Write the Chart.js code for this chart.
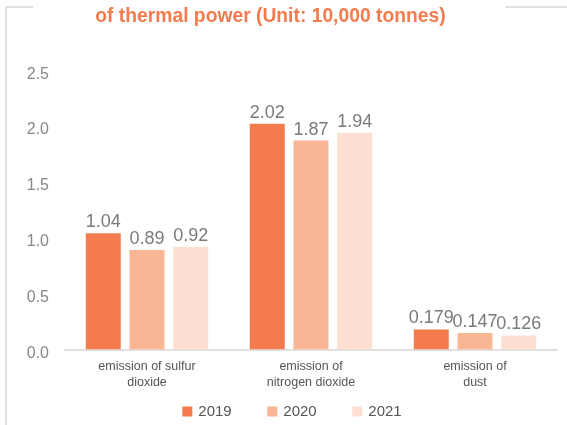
<!DOCTYPE html>
<html>
<head>
<meta charset="utf-8">
<script src="https://cdn.jsdelivr.net/npm/chart.js@4"></script>
<style>
    html, body { margin: 0; padding: 0; background: #fff; }
    #wrap { width: 567px; height: 425px; }
</style>
</head>
<body>
<div id="wrap"><canvas id="emissionChart" width="567" height="425"></canvas></div>
<script>
    const categories = [
        ['emission of sulfur', 'dioxide'],
        ['emission of', 'nitrogen dioxide'],
        ['emission of', 'dust']
    ];
    const years = ['2019', '2020', '2021'];
    const values2019 = [1.04, 2.02, 0.179];
    const values2020 = [0.89, 1.87, 0.147];
    const values2021 = [0.92, 1.94, 0.126];
    const yTicks = [0, 0.5, 1.0, 1.5, 2.0, 2.5];

    const colors = ['#f47b4d', '#f9b694', '#fde0d1'];
    const fontFamily = '"Liberation Sans", Arial, sans-serif';

    // thin grey frame around the chart
    const framePlugin = {
        id: 'frame',
        beforeDraw(chart) {
            const ctx = chart.ctx;
            ctx.save();
            ctx.strokeStyle = '#e2e2e2';
            ctx.lineWidth = 2;
            ctx.beginPath();
            ctx.moveTo(33, 7);
            ctx.lineTo(6, 7);
            ctx.lineTo(6, 425);
            ctx.moveTo(505, 7);
            ctx.lineTo(567, 7);
            ctx.stroke();
            ctx.restore();
        }
    };

    // value labels above bars
    const valueLabels = {
        id: 'valueLabels',
        afterDatasetsDraw(chart) {
            const ctx = chart.ctx;
            ctx.save();
            ctx.font = '18px ' + fontFamily;
            ctx.fillStyle = '#7a7a7a';
            ctx.textAlign = 'center';
            ctx.textBaseline = 'alphabetic';
            chart.data.datasets.forEach(function (ds, i) {
                chart.getDatasetMeta(i).data.forEach(function (bar, j) {
                    ctx.fillText(String(ds.data[j]), bar.x, bar.y - 6);
                });
            });
            ctx.restore();
        }
    };

    // legend with wide spacing between items
    const bottomLegend = {
        id: 'bottomLegend',
        afterDraw(chart) {
            const ctx = chart.ctx;
            const step = 85, box = 10, gap = 6, y = 412;
            ctx.save();
            ctx.font = '15px ' + fontFamily;
            const dsets = chart.data.datasets;
            const lastW = ctx.measureText(dsets[dsets.length - 1].label).width;
            const total = step * (dsets.length - 1) + box + gap + lastW;
            let x = 292 - total / 2;
            dsets.forEach(function (ds) {
                ctx.fillStyle = ds.backgroundColor;
                ctx.fillRect(x, y - box / 2 - 0.5, box, box);
                ctx.fillStyle = '#555';
                ctx.textAlign = 'left';
                ctx.textBaseline = 'middle';
                ctx.fillText(ds.label, x + box + gap, y);
                x += step;
            });
            ctx.restore();
        }
    };

    const ctx = document.getElementById('emissionChart').getContext('2d');

    new Chart(ctx, {
        type: 'bar',
        data: {
            labels: categories,
            datasets: [
                { label: years[0], data: values2019, backgroundColor: colors[0] },
                { label: years[1], data: values2020, backgroundColor: colors[1] },
                { label: years[2], data: values2021, backgroundColor: colors[2] }
            ]
        },
        options: {
            responsive: false,
            animation: false,
            events: [],
            layout: { padding: { left: 0, right: 10, top: 0, bottom: 30.5 } },
            datasets: {
                bar: { categoryPercentage: 0.8, barPercentage: 0.8 }
            },
            scales: {
                x: {
                    grid: { display: false },
                    border: { display: true, color: '#e0e0e0', width: 2 },
                    ticks: {
                        color: '#555',
                        padding: 1,
                        maxRotation: 0,
                        font: { family: fontFamily, size: 12.5, lineHeight: 1.28 }
                    },
                    afterFit(scale) { scale.height = 45; }
                },
                y: {
                    min: 0,
                    max: 2.5,
                    grid: { display: false },
                    border: { display: false },
                    afterBuildTicks(scale) {
                        scale.ticks = yTicks.map(function (v) { return { value: v }; });
                    },
                    ticks: {
                        color: '#888',
                        padding: 8,
                        labelOffset: 4,
                        font: { family: fontFamily, size: 16 },
                        callback: function (v) { return Number(v).toFixed(1); }
                    },
                    afterFit(scale) { scale.width = 65; }
                }
            },
            plugins: {
                title: {
                    display: true,
                    text: 'of thermal power (Unit: 10,000 tonnes)   ',
                    color: '#f47b4d',
                    font: { family: fontFamily, size: 19.3, weight: 'bold' },
                    padding: { top: 5, bottom: 42 }
                },
                legend: { display: false },
                tooltip: { enabled: false }
            }
        },
        plugins: [framePlugin, valueLabels, bottomLegend]
    });
</script>
</body>
</html>
